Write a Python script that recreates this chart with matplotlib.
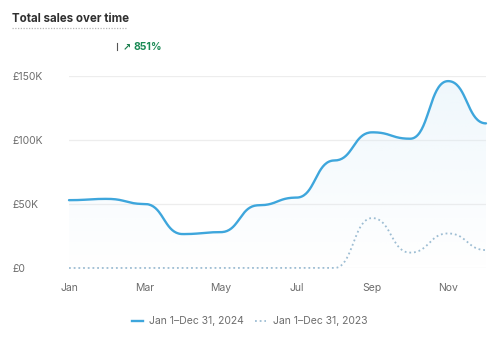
import numpy as np
import matplotlib
matplotlib.use("Agg")
import matplotlib.pyplot as plt
from matplotlib.patches import PathPatch
from matplotlib.path import Path

plt.rcParams["font.family"] = ["Inter", "DejaVu Sans"]

months = ["Jan", "Feb", "Mar", "Apr", "May", "Jun", "Jul", "Aug", "Sep", "Oct", "Nov", "Dec"]
sales_2024 = [53000, 54000, 50000, 26500, 28000, 49000, 55000, 84000, 106000, 101000, 146000, 113000]
sales_2023 = [0, 0, 0, 0, 0, 0, 0, 0, 39000, 12000, 27000, 14000]
tick_months = ["Jan", "Mar", "May", "Jul", "Sep", "Nov"]
y_ticks = [0, 50000, 100000, 150000]
y_labels = ["£0", "£50K", "£100K", "£150K"]
legend_labels = ["Jan 1\u2013Dec 31, 2024", "Jan 1\u2013Dec 31, 2023"]
change_label = "851%"

LINE = "#3ea6dc"
PRIOR = "#9dbdd3"
GREY = "#6d6d6d"


def bump_curve(ys, n=40):
    # cubic bezier per segment, horizontal tangent at each point
    xs_out, ys_out = [], []
    t = np.linspace(0, 1, n)
    for i in range(len(ys) - 1):
        x0, x1 = i, i + 1
        y0, y1 = ys[i], ys[i + 1]
        xm = (x0 + x1) / 2
        bx = (1 - t) ** 3 * x0 + 3 * (1 - t) ** 2 * t * xm + 3 * (1 - t) * t ** 2 * xm + t ** 3 * x1
        by = (1 - t) ** 3 * y0 + 3 * (1 - t) ** 2 * t * y0 + 3 * (1 - t) * t ** 2 * y1 + t ** 3 * y1
        if i > 0:
            bx, by = bx[1:], by[1:]
        xs_out.append(bx)
        ys_out.append(by)
    return np.concatenate(xs_out), np.concatenate(ys_out)


fig = plt.figure(figsize=(5.0, 3.41), dpi=100)
ax = fig.add_axes([69 / 500, 1 - 268 / 341, (486 - 69) / 500, (268 - 76) / 341])

x_cur, y_cur = bump_curve(sales_2024)
x_pri, y_pri = bump_curve(sales_2023)

ax.set_xlim(0, len(months) - 1)
ax.set_ylim(0, 150000)

for v in y_ticks:
    ax.axhline(v, color="#ededed", lw=0.9, zorder=0)

# soft gradient under the current-year line
verts = np.column_stack([np.r_[x_cur, x_cur[-1], x_cur[0]], np.r_[y_cur, 0, 0]])
clip = PathPatch(Path(verts), facecolor="none", edgecolor="none")
ax.add_patch(clip)
grad = np.zeros((100, 2, 4))
grad[..., :3] = matplotlib.colors.to_rgb("#d8ecf8")
grad[..., 3] = np.linspace(0.0, 0.4, 100)[:, None]
img = ax.imshow(grad, extent=[0, len(months) - 1, 0, max(sales_2024)], origin="lower",
                aspect="auto", zorder=1)
img.set_clip_path(clip)

ax.plot(x_pri, y_pri, color=PRIOR, lw=1.3, ls=(0, (1, 1.6)), zorder=2, clip_on=False)
ax.plot(x_cur, y_cur, color=LINE, lw=1.7, zorder=3, clip_on=False, solid_capstyle="round")

ax.set_xticks([months.index(m) for m in tick_months])
ax.set_xticklabels(tick_months)
ax.set_yticks(y_ticks)
ax.set_yticklabels(y_labels)
ax.tick_params(length=0, labelsize=7.5, labelcolor=GREY)
ax.tick_params(axis="x", pad=11)
for lbl in ax.get_yticklabels():
    lbl.set_horizontalalignment("left")
ax.tick_params(axis="y", pad=41)
for s in ax.spines.values():
    s.set_visible(False)

# header
fig.text(12 / 500, 1 - 19 / 341, "Total sales over time", fontsize=8.3, fontweight="bold",
         color="#303030", va="center", ha="left")
fig.add_artist(plt.Line2D([12 / 500, 127 / 500], [1 - 28 / 341] * 2, color="#b5b5b5",
                          lw=0.9, ls=(0, (1, 1.2))))
fig.add_artist(plt.Line2D([117 / 500] * 2, [1 - 43 / 341, 1 - 50 / 341], color="#555555", lw=0.8))
fig.text(123 / 500, 1 - 47 / 341, "\u2197", fontsize=7, color="#1b7f4e", va="center", ha="left",
         fontweight="bold", family=["DejaVu Sans"])
fig.text(133 / 500, 1 - 47 / 341, change_label, fontsize=7.5, color="#1b8a55", va="center",
         ha="left", fontweight="bold")

# legend
ly = 1 - 321 / 341
fig.add_artist(plt.Line2D([132 / 500, 143 / 500], [ly, ly], color=LINE, lw=1.7))
fig.text(149 / 500, ly, legend_labels[0], fontsize=7.5, color=GREY, va="center", ha="left")
fig.add_artist(plt.Line2D([255 / 500, 266 / 500], [ly, ly], color=PRIOR, lw=1.3, ls=(0, (1, 1.6))))
fig.text(273 / 500, ly, legend_labels[1], fontsize=7.5, color=GREY, va="center", ha="left")

fig.savefig("out.png", dpi=100, facecolor="white")
